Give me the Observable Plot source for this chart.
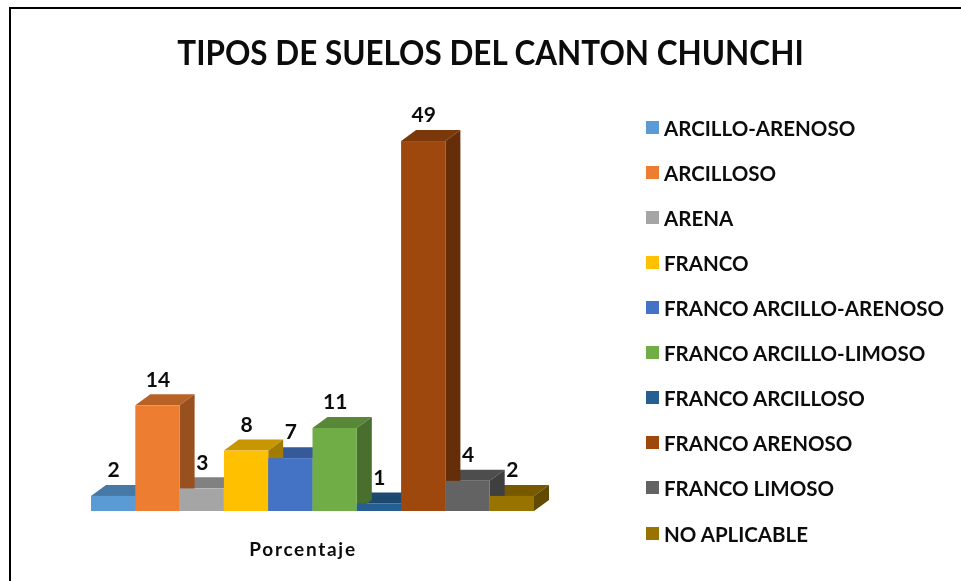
<!DOCTYPE html>
<html><head><meta charset="utf-8">
<script src="https://cdn.jsdelivr.net/npm/d3@7"></script>
<script src="https://cdn.jsdelivr.net/npm/@observablehq/plot@0.6"></script>
<style>
html,body{margin:0;padding:0;background:#fff;overflow:hidden}
#page{position:relative;width:961px;height:581px;overflow:hidden;font-family:Lato,sans-serif;color:#0c0c0c;font-weight:700;filter:blur(0.35px)}
#frame{position:absolute;left:9px;top:7px;right:-5px;bottom:-5px;border-left:2.5px solid #000;border-top:2.5px solid #000}
#title{position:absolute;left:0;top:30px;width:981px;text-align:center;font-size:34px;line-height:44px;white-space:nowrap;transform:scaleX(0.925);transform-origin:490.5px 50%}
#chart{position:absolute;left:0;top:0}
#legend .row{position:absolute;left:646px;height:24px;display:flex;align-items:center;white-space:nowrap;font-size:20.5px}
#legend .sw{width:13px;height:13px;margin-right:5px;flex:none}
.axisLab text{letter-spacing:1.7px}
</style></head><body>
<div id="page">
  <div id="frame"></div>
  <div id="chart"></div>
  <div id="title">TIPOS DE SUELOS DEL CANTON CHUNCHI</div>
  <div id="legend"></div>
</div>
<script>
const categories = ["ARCILLO-ARENOSO","ARCILLOSO","ARENA","FRANCO","FRANCO ARCILLO-ARENOSO","FRANCO ARCILLO-LIMOSO","FRANCO ARCILLOSO","FRANCO ARENOSO","FRANCO LIMOSO","NO APLICABLE"];
const values = [2,14,3,8,7,11,1,49,4,2];
const colors = ["#5B9BD5","#ED7D31","#A5A5A5","#FFC000","#4472C4","#70AD47","#255E91","#9E480E","#636363","#997300"];
const axisLabel = "Porcentaje";

const data = categories.map((c,i)=>({c, v:values[i], color:colors[i]}));
const shade = (hex,k)=>{const r=d3.rgb(hex);return d3.rgb(r.r*k,r.g*k,r.b*k).formatHex();};
const depthX = 15, depthY = 11;

function depthFaces(index, scales, vals, dims, ctx){
  const g = d3.select(ctx.document.createElementNS("http://www.w3.org/2000/svg","g"));
  const bw = scales.x.bandwidth();
  const y0 = scales.y(0);
  [...index].reverse().forEach(i=>{
    const d = data[i];
    const x0 = scales.x(d.c), x1 = x0+bw, yt = scales.y(d.v);
    g.append("polygon")
      .attr("points",[[x0,yt],[x1,yt],[x1+depthX,yt-depthY],[x0+depthX,yt-depthY]].join(" "))
      .attr("fill",shade(d.color,0.78));
    g.append("polygon")
      .attr("points",[[x1,yt],[x1+depthX,yt-depthY],[x1+depthX,y0-depthY],[x1,y0]].join(" "))
      .attr("fill",shade(d.color,0.64));
  });
  return g.node();
}

const plot = Plot.plot({
  width:961, height:581,
  marginLeft:91, marginRight:427, marginBottom:70, marginTop:133.5,
  x:{domain:categories, padding:0, round:false, axis:null},
  y:{domain:[0,50], axis:null},
  style:{background:"transparent",overflow:"visible"},
  marks:[
    Plot.barY(data,{x:"c",y:"v",fill:"none",render:depthFaces}),
    Plot.barY(data,{x:"c",y:"v",fill:d=>d.color}),
    Plot.text(data,{x:"c",y:"v",text:d=>String(d.v),dy:-26,fontSize:21,fontWeight:700,fontFamily:"Lato,sans-serif",fill:"#0c0c0c"}),
    Plot.text([axisLabel],{frameAnchor:"bottom",dx:-10,dy:44,fontSize:19,fontWeight:700,fontFamily:"Lato,sans-serif",fill:"#0c0c0c",className:"axisLab"})
  ]
});
document.getElementById("chart").append(plot);

const rowTops = [127.5,172.5,217.5,262.5,307.5,352.5,397.5,442.5,487.5,533.5];
const legend = document.getElementById("legend");
categories.forEach((c,i)=>{
  const row=document.createElement("div");row.className="row";row.style.top=(rowTops[i]-12)+"px";
  const sw=document.createElement("div");sw.className="sw";sw.style.background=colors[i];
  const t=document.createElement("span");t.textContent=c;
  row.append(sw,t);legend.append(row);
});
</script>
</body></html>
